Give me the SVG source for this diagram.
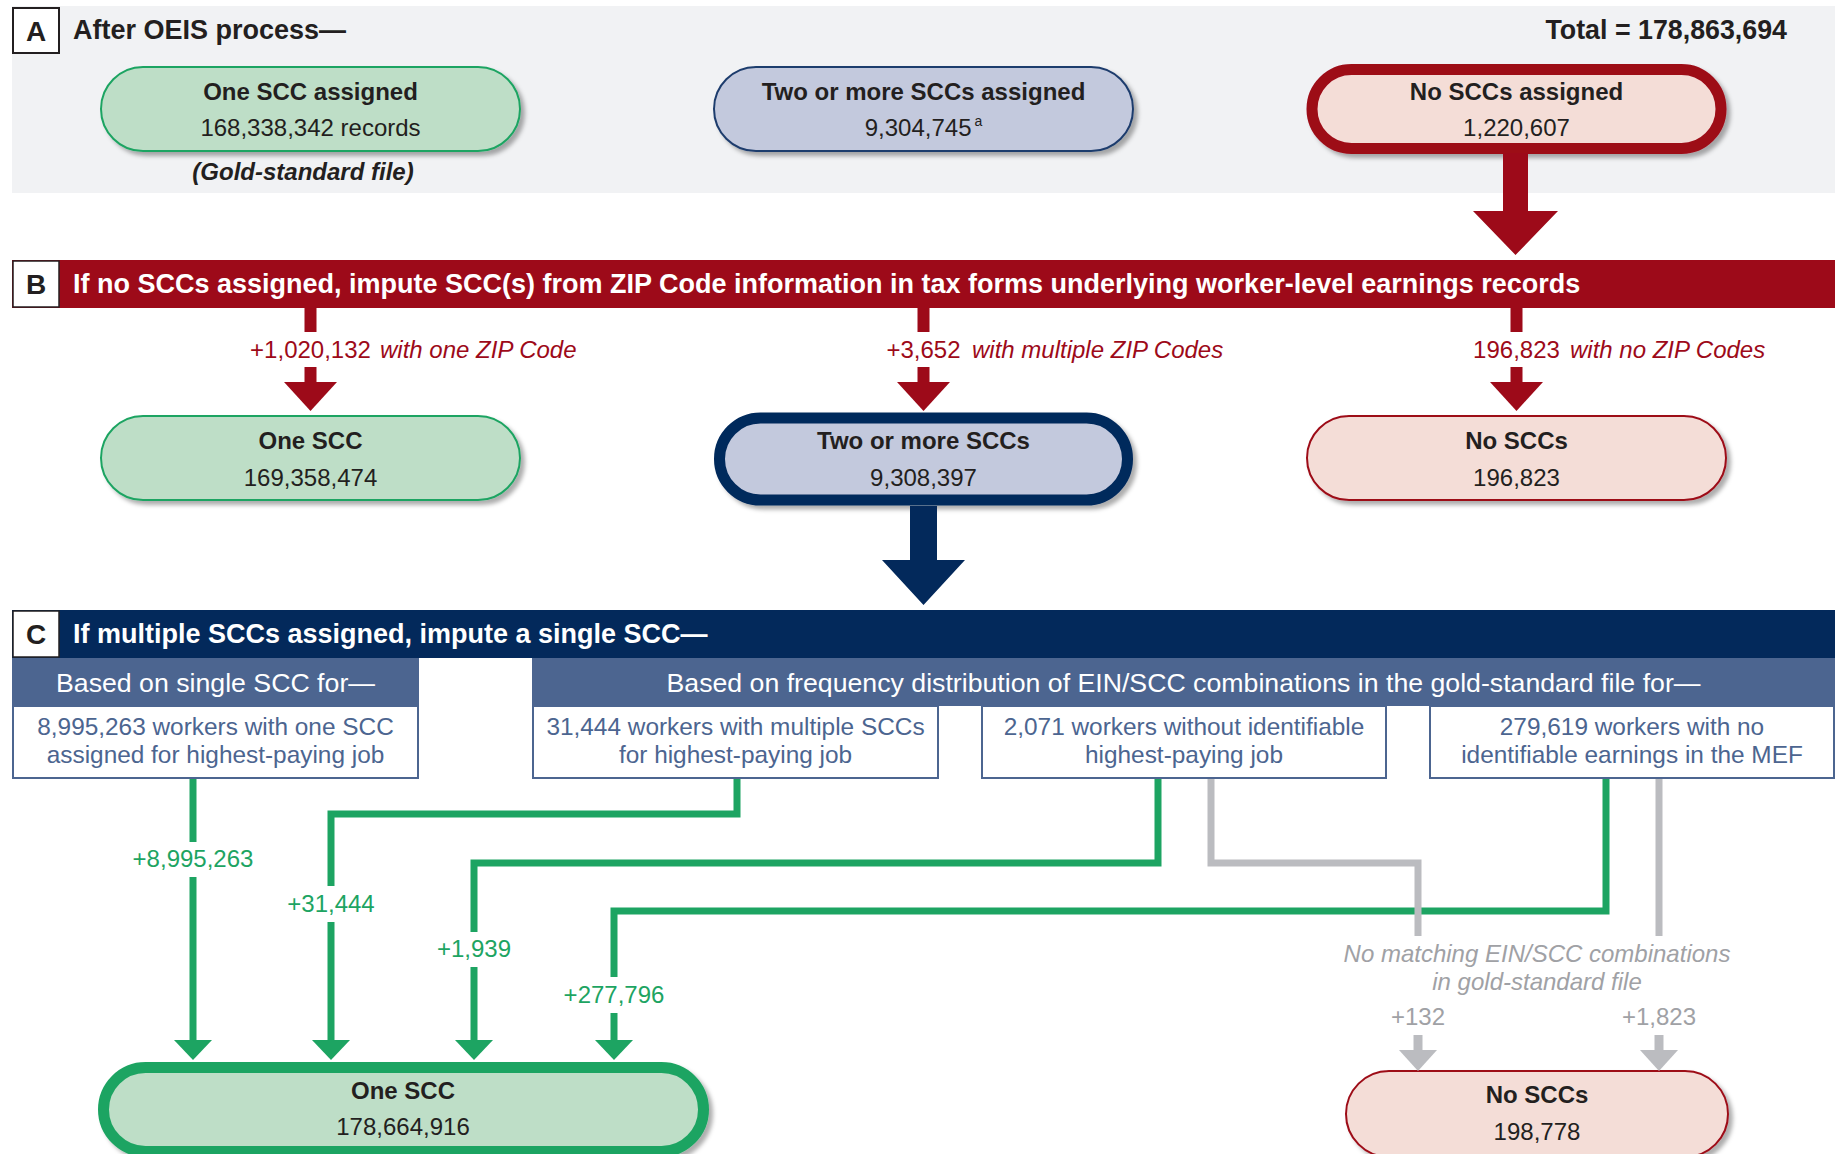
<svg xmlns="http://www.w3.org/2000/svg" width="1847" height="1154" viewBox="0 0 1847 1154">
<defs>
<style>
text{font-family:"Liberation Sans",Arial,Helvetica,sans-serif;}
.nt{font-size:24px;font-weight:bold;fill:#231f20;text-anchor:middle;}
.nv{font-size:24px;fill:#231f20;text-anchor:middle;}
.ttl{font-size:27px;font-weight:bold;fill:#ffffff;}
.let{font-size:28px;font-weight:bold;fill:#231f20;text-anchor:middle;}
.lbox{fill:#ffffff;stroke:#231f20;stroke-width:2;}
.green{fill:#bedec7;stroke:#1da462;stroke-width:2;}
.greenT{fill:#bedec7;stroke:#1da462;stroke-width:11;}
.lav{fill:#c3c9dd;stroke:#1f3c6d;stroke-width:2;}
.lavT{fill:#c3c9dd;stroke:#03295b;stroke-width:11;}
.pink{fill:#f4ddd7;stroke:#9d0a19;stroke-width:2;}
.pinkT{fill:#f4ddd7;stroke:#9d0a19;stroke-width:11;}
.sub{font-size:26.7px;fill:#ffffff;text-anchor:middle;}
.box{fill:#ffffff;stroke:#4c6590;stroke-width:2;}
.bt{font-size:24.4px;fill:#4c6590;text-anchor:middle;}
.rl{font-size:24px;fill:#9d0a19;}
.gl{font-size:24px;fill:#1da462;text-anchor:middle;}
.gy{font-size:24px;fill:#a0a1a5;text-anchor:middle;}
.gc{fill:none;stroke:#1da462;stroke-width:7;stroke-linejoin:miter;}
.yc{fill:none;stroke:#bbbcc0;stroke-width:7;stroke-linejoin:miter;}
.rc{fill:none;stroke:#9d0a19;stroke-width:12;}
</style>
<filter id="sh" x="-5%" y="-10%" width="115%" height="140%">
<feDropShadow dx="4" dy="4" stdDeviation="2.2" flood-color="#000000" flood-opacity="0.32"/>
</filter>
<marker id="mg" markerUnits="userSpaceOnUse" viewBox="0 -19 20 38" refX="0" refY="0" markerWidth="20" markerHeight="38" orient="auto">
<path d="M0,-19 L20,0 L0,19 Z" fill="#1da462"/>
</marker>
<marker id="my" markerUnits="userSpaceOnUse" viewBox="0 -19 21 38" refX="0" refY="0" markerWidth="21" markerHeight="38" orient="auto">
<path d="M0,-19 L21,0 L0,19 Z" fill="#bbbcc0"/>
</marker>
<marker id="mr" markerUnits="userSpaceOnUse" viewBox="0 -26.5 29 53" refX="0" refY="0" markerWidth="29" markerHeight="53" orient="auto">
<path d="M0,-26.5 L29,0 L0,26.5 Z" fill="#9d0a19"/>
</marker>
</defs>

<!-- Section A -->
<g id="sectionA">
<rect x="12" y="6" width="1823" height="187" fill="#f1f2f4"/>
<rect class="lbox" x="13" y="8" width="46" height="45"/>
<text class="let" x="36" y="41">A</text>
<text x="73" y="39" style="font-size:27px;font-weight:bold;fill:#231f20">After OEIS process—</text>
<text x="1787" y="39" style="font-size:26.8px;font-weight:bold;fill:#231f20;text-anchor:end">Total = 178,863,694</text>
</g>

<g id="nodeA1">
<rect class="green" x="101" y="67" width="419" height="84" rx="42" filter="url(#sh)"/>
<text class="nt" x="310.5" y="100">One SCC assigned</text>
<text class="nv" x="310.5" y="136">168,338,342 records</text>
<text x="303" y="180" style="font-size:24px;font-weight:bold;font-style:italic;fill:#231f20;text-anchor:middle">(Gold-standard file)</text>
</g>
<g id="nodeA2">
<rect class="lav" x="714" y="67" width="419" height="84" rx="42" filter="url(#sh)"/>
<text class="nt" x="923.5" y="100">Two or more SCCs assigned</text>
<text class="nv" x="923.5" y="136">9,304,745<tspan dx="3" dy="-10" style="font-size:14px">a</tspan></text>
</g>
<g id="nodeA3">
<rect class="pinkT" x="1312" y="69.5" width="409" height="79" rx="39.5" filter="url(#sh)"/>
<text class="nt" x="1516.5" y="100">No SCCs assigned</text>
<text class="nv" x="1516.5" y="136">1,220,607</text>
</g>

<!-- Section B -->
<g id="sectionB">
<rect x="12" y="260" width="1823" height="48" fill="#9d0a19"/>
<rect class="lbox" x="13" y="261" width="46" height="46" style="stroke-width:1.5"/>
<text class="let" x="36" y="294">B</text>
<text class="ttl" x="73" y="293">If no SCCs assigned, impute SCC(s) from ZIP Code information in tax forms underlying worker-level earnings records</text>
</g>

<g id="nodeB1">
<rect class="green" x="101" y="416" width="419" height="84" rx="42" filter="url(#sh)"/>
<text class="nt" x="310.5" y="449">One SCC</text>
<text class="nv" x="310.5" y="486">169,358,474</text>
</g>
<g id="nodeB2">
<rect class="lavT" x="719.5" y="418" width="408" height="82" rx="41" filter="url(#sh)"/>
<text class="nt" x="923.5" y="449">Two or more SCCs</text>
<text class="nv" x="923.5" y="486">9,308,397</text>
</g>
<g id="nodeB3">
<rect class="pink" x="1307" y="416" width="419" height="84" rx="42" filter="url(#sh)"/>
<text class="nt" x="1516.5" y="449">No SCCs</text>
<text class="nv" x="1516.5" y="486">196,823</text>
</g>

<!-- Section C -->
<g id="sectionC">
<rect x="12" y="610" width="1823" height="48" fill="#03295b"/>
<rect class="lbox" x="13" y="611" width="46" height="46" style="stroke-width:1.5"/>
<text class="let" x="36" y="644">C</text>
<text class="ttl" x="73" y="643">If multiple SCCs assigned, impute a single SCC—</text>
<rect x="12" y="658" width="407" height="48" fill="#4c6590"/>
<text class="sub" x="215.5" y="692">Based on single SCC for—</text>
<rect x="532" y="658" width="1303" height="48" fill="#4c6590"/>
<text class="sub" x="1183.5" y="692">Based on frequency distribution of EIN/SCC combinations in the gold-standard file for—</text>
</g>

<g id="boxC1">
<rect class="box" x="13" y="706" width="405" height="72"/>
<text class="bt" x="215.5" y="735">8,995,263 workers with one SCC</text>
<text class="bt" x="215.5" y="763">assigned for highest-paying job</text>
</g>
<g id="boxC2">
<rect class="box" x="533" y="706" width="405" height="72"/>
<text class="bt" x="735.5" y="735">31,444 workers with multiple SCCs</text>
<text class="bt" x="735.5" y="763">for highest-paying job</text>
</g>
<g id="boxC3">
<rect class="box" x="982" y="706" width="404" height="72"/>
<text class="bt" x="1184" y="735">2,071 workers without identifiable</text>
<text class="bt" x="1184" y="763">highest-paying job</text>
</g>
<g id="boxC4">
<rect class="box" x="1430" y="706" width="404" height="72"/>
<text class="bt" x="1632" y="735">279,619 workers with no</text>
<text class="bt" x="1632" y="763">identifiable earnings in the MEF</text>
</g>

<g id="nodeFinalOne">
<rect class="greenT" x="103.5" y="1067.5" width="600" height="84" rx="42" filter="url(#sh)"/>
<text class="nt" x="403" y="1099">One SCC</text>
<text class="nv" x="403" y="1135">178,664,916</text>
</g>
<g id="nodeFinalNo">
<rect class="pink" x="1346" y="1071" width="382" height="86" rx="43" filter="url(#sh)"/>
<text class="nt" x="1537" y="1103">No SCCs</text>
<text class="nv" x="1537" y="1140">198,778</text>
</g>

<!-- Connectors -->
<g id="connectors">
<polygon points="1503,153 1528,153 1528,211 1558,211 1515.5,255 1473,211 1503,211" fill="#9d0a19"/>
<path class="rc" d="M310.5,308 V332 M310.5,367 V382" marker-end="url(#mr)"/>
<path class="rc" d="M923.5,308 V332 M923.5,367 V382" marker-end="url(#mr)"/>
<path class="rc" d="M1516.5,308 V332 M1516.5,367 V382" marker-end="url(#mr)"/>
<text class="rl" x="310.5" y="358" style="text-anchor:middle">+1,020,132</text>
<text class="rl" x="380" y="358" style="font-style:italic">with one ZIP Code</text>
<text class="rl" x="923.5" y="358" style="text-anchor:middle">+3,652</text>
<text class="rl" x="972" y="358" style="font-style:italic">with multiple ZIP Codes</text>
<text class="rl" x="1516.5" y="358" style="text-anchor:middle">196,823</text>
<text class="rl" x="1570" y="358" style="font-style:italic">with no ZIP Codes</text>
<polygon points="910,506 937,506 937,560 965,560 923.5,605 882,560 910,560" fill="#03295b"/>

<path class="gc" d="M193,779 V842 M193,877 V1040" marker-end="url(#mg)"/>
<path class="gc" d="M737,779 V814 H331 V886 M331,922 V1040" marker-end="url(#mg)"/>
<path class="gc" d="M1158,779 V863 H474 V932 M474,967 V1040" marker-end="url(#mg)"/>
<path class="gc" d="M1606,779 V911 H614 V977 M614,1013 V1040" marker-end="url(#mg)"/>
<text class="gl" x="193" y="867">+8,995,263</text>
<text class="gl" x="331" y="912">+31,444</text>
<text class="gl" x="474" y="957">+1,939</text>
<text class="gl" x="614" y="1003">+277,796</text>

<path class="yc" d="M1211,779 V863 H1418 V936"/>
<path class="yc" d="M1659,779 V936"/>
<path class="yc" d="M1418,1035 V1050" style="stroke-width:9" marker-end="url(#my)"/>
<path class="yc" d="M1659,1035 V1050" style="stroke-width:9" marker-end="url(#my)"/>
<text class="gy" x="1537" y="962" style="font-style:italic">No matching EIN/SCC combinations</text>
<text class="gy" x="1537" y="990" style="font-style:italic">in gold-standard file</text>
<text class="gy" x="1418" y="1025">+132</text>
<text class="gy" x="1659" y="1025">+1,823</text>
</g>
</svg>
